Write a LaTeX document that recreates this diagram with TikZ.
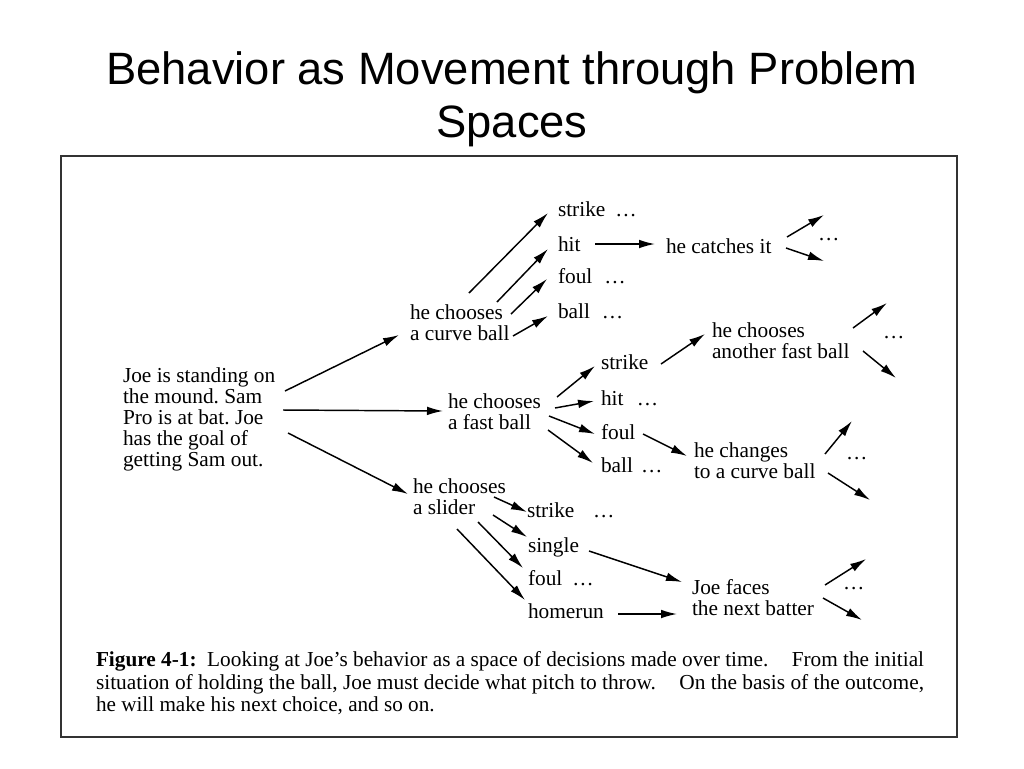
\documentclass[tikz,border=0pt]{standalone}
\usepackage{graphicx}
\usepackage{fontspec}
\newfontfamily\serifd{Liberation Serif}
\newfontfamily\sansd{Liberation Sans}
\usetikzlibrary{arrows.meta}
\frenchspacing
\begin{document}
\begin{tikzpicture}[x=0.75pt,y=-0.75pt,
  lbl/.style={font=\serifd\fontsize{16pt}{15.75pt}\selectfont, inner sep=0pt, outer sep=0pt, anchor=base west},
  multi/.style={font=\serifd\fontsize{16pt}{15.75pt}\selectfont, inner sep=0pt, outer sep=0pt, align=left, anchor=north west},
  caption/.style={font=\serifd\fontsize{16pt}{17pt}\selectfont, inner sep=0pt, outer sep=0pt, anchor=base west},
  arr/.style={-{Latex[length=12pt,width=6.5pt]}, line width=1.1pt},
  frame/.style={draw=black!80, line width=1.5pt}]
\useasboundingbox (0,0) rectangle (1024,768);
\fill[white] (0,0) rectangle (1024,768);

% title
\node[font=\sansd\fontsize{34pt}{39.75pt}\selectfont, align=center, anchor=north, inner sep=0pt] (title) at (512,51) {Behavior as Movement through Problem\\Spaces};

% frame
\draw[frame] (61,156) rectangle (957,737);

% nodes
\node[multi] (start) at (123,368) {Joe is standing on\\the mound. Sam\\Pro is at bat. Joe\\has the goal of\\getting Sam out.};
\node[multi] (curve) at (410,305) {he chooses\\a curve ball};
\node[multi] (fast) at (448,394) {he chooses\\a fast ball};
\node[multi] (slider) at (413,479) {he chooses\\a slider};

\node[lbl] (strikeA) at (558,216) {strike\hspace{7.5pt}…};
\node[lbl] (hitA) at (558,251) {hit};
\node[lbl] (foulA) at (558,283) {foul\hspace{9pt}…};
\node[lbl] (ballA) at (558,318) {ball\hspace{9pt}…};
\node[lbl] (catch) at (666,253) {he catches it};
\node[lbl] (dC) at (818,240) {…};

\node[lbl] (strikeB) at (601,369) {strike};
\node[lbl] (hitB) at (601,405) {hit\hspace{10pt}…};
\node[lbl] (foulB) at (601,439) {foul};
\node[lbl] (ballB) at (601,472) {ball\hspace{6pt}…};
\node[multi] (another) at (712,323) {he chooses\\another fast ball};
\node[lbl] (dA) at (883,338) {…};
\node[multi] (changes) at (694,443) {he changes\\to a curve ball};
\node[lbl] (dCh) at (846,459) {…};

\node[lbl] (strikeC) at (527,517) {strike\hspace{14pt}…};
\node[lbl] (single) at (528,552) {single};
\node[lbl] (foulC) at (528,585) {foul\hspace{7.5pt}…};
\node[lbl] (homerun) at (528,618) {homerun};
\node[multi] (faces) at (692,579) {Joe faces\\the next batter};
\node[lbl] (dF) at (843,589) {…};

% caption
\node[caption] (cap1) at (96,666) {\resizebox{621pt}{\height}{\textbf{Figure 4-1:}\hspace{0.5em}Looking at Joe’s behavior as a space of decisions made over time.\hspace{1.1em}From the initial}};
\node[caption] (cap2) at (96,689) {\resizebox{621pt}{\height}{situation of holding the ball, Joe must decide what pitch to throw.\hspace{1.1em}On the basis of the outcome,}};
\node[caption] (cap3) at (96,711) {\resizebox{254pt}{\height}{he will make his next choice, and so on.}};

% connectors
\draw[arr] ([shift={(162,23)}]start.north west) -- ([shift={(-11,30)}]curve.north west);
\draw[arr] ([shift={(160,42)}]start.north west) -- ([shift={(-5,17)}]fast.north west);
\draw[arr] ([shift={(165,65)}]start.north west) -- ([shift={(-5,15)}]slider.north west);

\draw[arr] ([shift={(59,-12)}]curve.north west) -- ([shift={(-10,-3)}]strikeA.base west);
\draw[arr] ([shift={(87,-3)}]curve.north west) -- ([shift={(-10,-2)}]hitA.base west);
\draw[arr] ([shift={(101,9)}]curve.north west) -- ([shift={(-11,-4)}]foulA.base west);
\draw[arr] ([shift={(103,31)}]curve.north west) -- ([shift={(-10,-2)}]ballA.base west);
\draw[arr] ([shift={(37,-7)}]hitA.base west) -- ([shift={(-11,-9)}]catch.base west);
\draw[arr] ([shift={(121,-16)}]catch.base west) -- ([shift={(158,-38)}]catch.base west);
\draw[arr] ([shift={(120,-5)}]catch.base west) -- ([shift={(158,8)}]catch.base west);

\draw[arr] ([shift={(109,3)}]fast.north west) -- ([shift={(-6,-3)}]strikeB.base west);
\draw[arr] ([shift={(107,14)}]fast.north west) -- ([shift={(-7,-4)}]hitB.base west);
\draw[arr] ([shift={(101,22)}]fast.north west) -- ([shift={(-6,-5)}]foulB.base west);
\draw[arr] ([shift={(100,36)}]fast.north west) -- ([shift={(-8,-9)}]ballB.base west);
\draw[arr] ([shift={(60,-5)}]strikeB.base west) -- ([shift={(-7,11)}]another.north west);
\draw[arr] ([shift={(141,5)}]another.north west) -- ([shift={(175,-20)}]another.north west);
\draw[arr] ([shift={(151,28)}]another.north west) -- ([shift={(184,55)}]another.north west);
\draw[arr] ([shift={(42,-5)}]foulB.base west) -- ([shift={(-7,13)}]changes.north west);
\draw[arr] ([shift={(131,11)}]changes.north west) -- ([shift={(158,-22)}]changes.north west);
\draw[arr] ([shift={(134,30)}]changes.north west) -- ([shift={(176,57)}]changes.north west);

\draw[arr] ([shift={(81,18)}]slider.north west) -- ([shift={(0,-5)}]strikeC.base west);
\draw[arr] ([shift={(80,36)}]slider.north west) -- ([shift={(-1,-15)}]single.base west);
\draw[arr] ([shift={(65,43)}]slider.north west) -- ([shift={(-5,-17)}]foulC.base west);
\draw[arr] ([shift={(44,50)}]slider.north west) -- ([shift={(-3,-18)}]homerun.base west);
\draw[arr] ([shift={(61,-1)}]single.base west) -- ([shift={(-10,3)}]faces.north west);
\draw[arr] ([shift={(90,-4)}]homerun.base west) -- ([shift={(-15,35)}]faces.north west);
\draw[arr] ([shift={(133,6)}]faces.north west) -- ([shift={(174,-20)}]faces.north west);
\draw[arr] ([shift={(131,19)}]faces.north west) -- ([shift={(170,41)}]faces.north west);
\end{tikzpicture}
\end{document}
